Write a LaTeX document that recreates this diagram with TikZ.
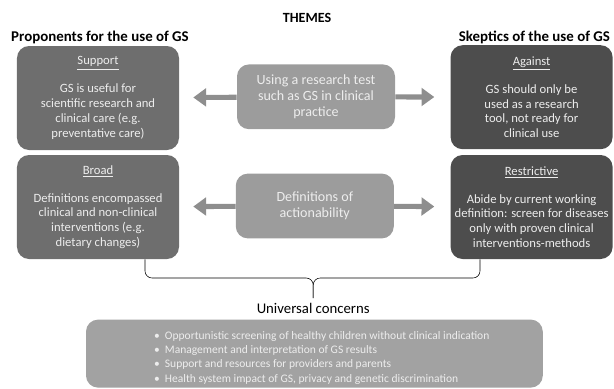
\documentclass[tikz,border=0pt]{standalone}
\usepackage{fontspec}
\setmainfont{Carlito}
\usepackage{xcolor}
\usepackage{tikz}
\usetikzlibrary{arrows.meta}

\definecolor{procol}{HTML}{6E6E6E}
\definecolor{skepcol}{HTML}{4D4D4D}
\definecolor{themecol}{HTML}{9C9C9C}
\definecolor{concol}{HTML}{A2A2A2}
\definecolor{arrowcol}{HTML}{8E8E8E}
\definecolor{boxtext}{HTML}{EDEDED}

\begin{document}
\begin{tikzpicture}[font=\fontsize{8.2}{10.2}\selectfont,
  sidebox/.style={rounded corners=0.3cm, text=boxtext, align=center,
    minimum width=4.05cm, minimum height=2.6cm, inner sep=2pt,
    font=\fontsize{9}{10.5}\selectfont},
  probox/.style={sidebox, fill=procol},
  skepbox/.style={sidebox, fill=skepcol},
  themebox/.style={rounded corners=0.3cm, fill=themecol, text=boxtext, align=center,
    minimum width=3.95cm, minimum height=1.62cm, font=\fontsize{10}{11.2}\selectfont},
  bigarrow/.style={-{Triangle[length=0.32cm,width=0.44cm]}, line width=3.6pt, arrowcol},
  heading/.style={font=\fontsize{10.6}{12}\selectfont\bfseries}]

\useasboundingbox (0,0) rectangle (15.35,-9.725);

% ===================== headings =====================
\node[heading, font=\fontsize{10}{12}\selectfont\bfseries] (themes) at (7.675,-0.45) {THEMES};
\node[heading] (prohead) at (2.5,-0.93) {Proponents for the use of GS};
\node[heading] (skephead) at (13.36,-0.93) {Skeptics of the use of GS};

% ===================== row 1: research test =====================
\node[probox] (support) at (2.45,-2.45)
  {\underline{Support}\\[0.33cm] GS is useful for\\ scientific research and\\ clinical care (e.g.\\ preventative care)};
\node[themebox] (testuse) at (7.9,-2.42)
  {Using a research test\\ such as GS in clinical\\ practice};
\node[skepbox] (against) at (13.29,-2.43)
  {\underline{Against}\\[0.33cm] GS should only be\\ used as a research\\ tool, not ready for\\ clinical use};

\draw[bigarrow, shorten >=0.35cm] (testuse) -- (support);
\draw[bigarrow, shorten >=0.4cm] (testuse) -- (against);

% ===================== row 2: actionability =====================
\node[probox] (broad) at (2.45,-5.175)
  {\underline{Broad}\\[0.33cm] Definitions encompassed\\ clinical and non-clinical\\ interventions (e.g.\\ dietary changes)};
\node[themebox] (actionability) at (7.87,-5.15)
  {Definitions of\\ actionability};
\node[skepbox] (restrictive) at (13.29,-5.175)
  {\underline{Restrictive}\\[0.33cm] Abide by current working\\ definition: screen for diseases\\ only with proven clinical\\ interventions-methods};

\draw[bigarrow, shorten >=0.35cm] (actionability) -- (broad);
\draw[bigarrow, shorten >=0.4cm] (actionability) -- (restrictive);

% ===================== brace down to shared concerns =====================
\coordinate (bracetip) at (7.83,-7.45);
\draw[thin, rounded corners=5pt]
  ([xshift=1.175cm]broad.south) |- (bracetip |- 0,-6.95) -- (bracetip);
\draw[thin, rounded corners=5pt]
  ([xshift=-1.29cm]restrictive.south) |- (bracetip |- 0,-6.95) -- (bracetip);

\node[font=\fontsize{10.5}{12}\selectfont] (unihead) at (7.83,-7.72) {Universal concerns};

\node[rounded corners=0.3cm, fill=concol, minimum width=11.42cm, minimum height=1.7cm]
  (concernbox) at (7.86,-8.84) {};
\node[anchor=west, text=boxtext, align=left, inner sep=0pt] (concernlist)
  at ([xshift=1.7cm, yshift=-0.1cm]concernbox.west)
  {\textbullet\ \ Opportunistic screening of healthy children without clinical indication\\
   \textbullet\ \ Management and interpretation of GS results\\
   \textbullet\ \ Support and resources for providers and parents\\
   \textbullet\ \ Health system impact of GS, privacy and genetic discrimination};

\end{tikzpicture}
\end{document}
